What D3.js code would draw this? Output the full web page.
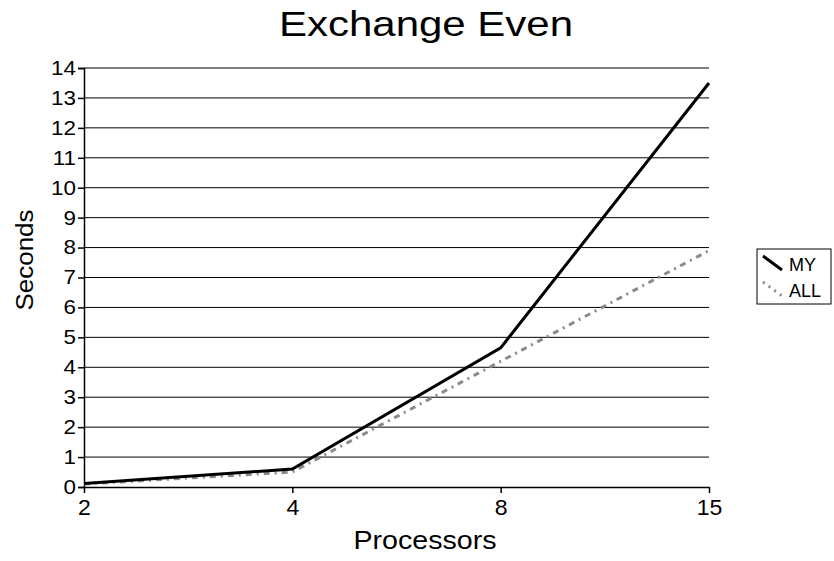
<!DOCTYPE html>
<html>
<head>
<meta charset="utf-8">
<script src="https://cdn.jsdelivr.net/npm/d3@7"></script>
<style>
  html, body { margin: 0; padding: 0; background: #fff; }
  svg { display: block; font-family: "Liberation Sans", Arial, sans-serif; }
</style>
</head>
<body>
<svg id="chart" width="834" height="561"></svg>
<script>
// Processor counts along the x axis
const processors = ["2", "4", "8", "15"];
// Run times in seconds
const mySeconds = [0.12, 0.6, 4.65, 13.5];
const allSeconds = [0.1, 0.5, 4.2, 7.9];
const yTicks = d3.range(0, 15);

const series = [
  { name: "MY", values: mySeconds, color: "#000", width: 3, dash: null },
  { name: "ALL", values: allSeconds, color: "#8a8a8a", width: 3, dash: "6,5,2,5" }
];

const FONT = "Liberation Sans, Arial, sans-serif";
const STRETCH = 1.12; // text is set slightly wide

const svg = d3.select("#chart");
const plot = { left: 84, right: 709, top: 68, bottom: 487 };

const x = d3.scalePoint().domain(processors).range([plot.left, plot.right]);
const y = d3.scaleLinear().domain([0, 14]).range([plot.bottom, plot.top]);

// Places a widened label centred on (cx, baseline)
function label(parent, cx, baseline, size, text, rotate, stretch = STRETCH) {
  const g = parent.append("g")
    .attr("transform", `translate(${cx},${baseline})${rotate ? ` rotate(${rotate})` : ""}`);
  g.append("text")
    .attr("transform", `scale(${stretch},1)`)
    .attr("text-anchor", "middle")
    .attr("font-family", FONT)
    .attr("font-size", size)
    .attr("fill", "#000")
    .text(text);
  return g;
}

// Horizontal gridlines
svg.append("g")
  .selectAll("line")
  .data(yTicks.filter(d => d > 0))
  .join("line")
  .attr("x1", plot.left).attr("x2", plot.right)
  .attr("y1", d => y(d)).attr("y2", d => y(d))
  .attr("stroke", "#000").attr("stroke-width", 1);

// Y axis
const yAxis = svg.append("g")
  .attr("transform", `translate(${plot.left},0)`)
  .call(d3.axisLeft(y).tickValues(yTicks).tickSize(6).tickPadding(4).tickFormat(d3.format("d")));
yAxis.select(".domain").attr("stroke", "#000").attr("stroke-width", 1.5);
yAxis.selectAll(".tick line").attr("stroke", "#000").attr("stroke-width", 1.5);
yAxis.selectAll("text")
  .attr("font-size", 20).attr("fill", "#000").attr("font-family", FONT)
  .attr("x", -8 / STRETCH)
  .attr("transform", `scale(${STRETCH},1)`);

// X axis
const xAxis = svg.append("g")
  .attr("transform", `translate(0,${plot.bottom})`)
  .call(d3.axisBottom(x).tickSize(6).tickPadding(6).tickSizeOuter(0));
xAxis.select(".domain").attr("stroke", "#000").attr("stroke-width", 1.5);
xAxis.selectAll(".tick line").attr("stroke", "#000").attr("stroke-width", 1.5);
xAxis.selectAll("text")
  .attr("font-size", 22).attr("fill", "#000").attr("font-family", FONT)
  .attr("transform", "scale(1.05,1)");

// Data lines
const line = d3.line().x((d, i) => x(processors[i])).y(d => y(d));
series.slice().reverse().forEach(s => {
  svg.append("path")
    .datum(s.values)
    .attr("d", line)
    .attr("fill", "none")
    .attr("stroke", s.color)
    .attr("stroke-width", s.width)
    .attr("stroke-dasharray", s.dash)
    .attr("stroke-linejoin", "miter");
});

// Title and axis labels
label(svg, 426, 36, 35, "Exchange Even", 0, 1.2);
label(svg, 33, 260, 24, "Seconds", -90, 1.08);
label(svg, 425, 549, 26, "Processors", 0, 1.1);

// Legend
const legend = svg.append("g").attr("transform", "translate(757,249)");
legend.append("rect")
  .attr("width", 74).attr("height", 55)
  .attr("fill", "#fff").attr("stroke", "#000").attr("stroke-width", 1);
series.forEach((s, i) => {
  const g = legend.append("g").attr("transform", `translate(0,${i * 26})`);
  g.append("line")
    .attr("x1", 6).attr("y1", 7).attr("x2", 25).attr("y2", 21)
    .attr("stroke", s.color).attr("stroke-width", s.width)
    .attr("stroke-dasharray", s.dash ? "2,5" : null);
  g.append("text")
    .attr("x", 32).attr("y", 22)
    .attr("font-size", 18)
    .attr("font-family", FONT)
    .text(s.name);
});
</script>
</body>
</html>
